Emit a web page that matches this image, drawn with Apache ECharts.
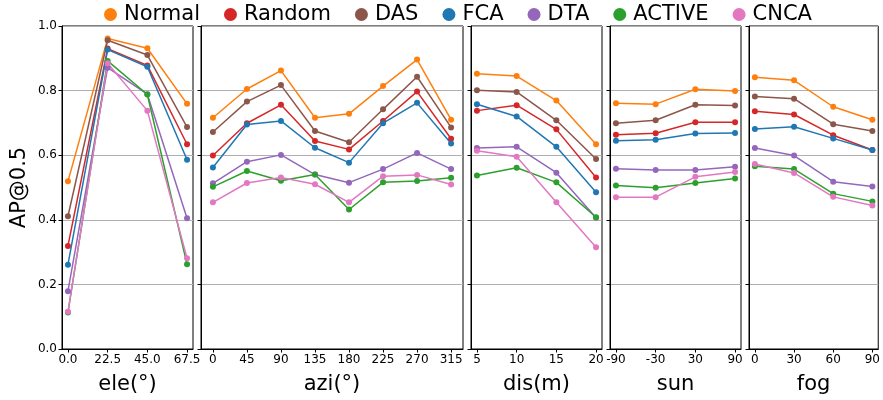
<!DOCTYPE html>
<html>
<head>
<meta charset="utf-8">
<script src="https://cdn.jsdelivr.net/npm/echarts@6/dist/echarts.min.js"></script>
<style>html,body{margin:0;padding:0;background:#fff}#c{width:883px;height:400px}</style>
</head>
<body>
<div id="c"></div>
<script>
// Panels and x positions
const panelNames = ['ele(°)', 'azi(°)', 'dis(m)', 'sun', 'fog'];
const eleX = [0, 22.5, 45, 67.5];
const aziX = [0, 45, 90, 135, 180, 225, 270, 315];
const disX = [5, 10, 15, 20];
const sunX = [-90, -30, 30, 90];
const fogX = [0, 30, 60, 90];
const eleLabels = ['0.0', '22.5', '45.0', '67.5'];

const seriesNames = ['Normal', 'Random', 'DAS', 'FCA', 'DTA', 'ACTIVE', 'CNCA'];
const seriesColors = ['#ff7f0e', '#d62728', '#8c564b', '#1f77b4', '#9467bd', '#2ca02c', '#e377c2'];

// values per series: [ele, azi, dis, sun, fog]
const Normal = [
  [0.519, 0.961, 0.931, 0.759],
  [0.716, 0.805, 0.862, 0.716, 0.728, 0.814, 0.896, 0.710],
  [0.852, 0.845, 0.769, 0.634],
  [0.761, 0.758, 0.804, 0.799],
  [0.841, 0.832, 0.750, 0.710]
];
const Random = [
  [0.319, 0.930, 0.878, 0.634],
  [0.599, 0.699, 0.756, 0.644, 0.618, 0.706, 0.797, 0.651],
  [0.738, 0.755, 0.680, 0.531],
  [0.663, 0.668, 0.702, 0.702],
  [0.736, 0.726, 0.662, 0.616]
];
const DAS = [
  [0.411, 0.956, 0.910, 0.687],
  [0.672, 0.766, 0.817, 0.675, 0.640, 0.742, 0.843, 0.686],
  [0.801, 0.796, 0.708, 0.588],
  [0.699, 0.708, 0.756, 0.754],
  [0.782, 0.775, 0.696, 0.675]
];
const FCA = [
  [0.261, 0.927, 0.874, 0.586],
  [0.562, 0.695, 0.706, 0.623, 0.577, 0.699, 0.762, 0.636],
  [0.758, 0.720, 0.626, 0.485],
  [0.645, 0.648, 0.667, 0.669],
  [0.681, 0.688, 0.652, 0.616]
];
const DTA = [
  [0.179, 0.871, 0.789, 0.405],
  [0.513, 0.580, 0.601, 0.540, 0.515, 0.557, 0.607, 0.557],
  [0.622, 0.626, 0.546, 0.406],
  [0.558, 0.554, 0.554, 0.564],
  [0.622, 0.599, 0.518, 0.503]
];
const ACTIVE = [
  [0.113, 0.892, 0.788, 0.262],
  [0.502, 0.551, 0.521, 0.540, 0.432, 0.516, 0.520, 0.530],
  [0.537, 0.561, 0.516, 0.408],
  [0.506, 0.499, 0.514, 0.528],
  [0.566, 0.557, 0.481, 0.457]
];
const CNCA = [
  [0.115, 0.885, 0.738, 0.281],
  [0.454, 0.514, 0.531, 0.510, 0.454, 0.535, 0.539, 0.509],
  [0.614, 0.595, 0.454, 0.315],
  [0.470, 0.470, 0.533, 0.548],
  [0.573, 0.545, 0.471, 0.444]
];
const seriesValues = [Normal, Random, DAS, FCA, DTA, ACTIVE, CNCA];

const panelX = [eleX, aziX, disX, sunX, fogX];
const FONT = 'DejaVu Sans';

const gridLayout = [
  {left: 62, width: 131},
  {left: 201, width: 262},
  {left: 471, width: 131},
  {left: 610, width: 131},
  {left: 749, width: 131}
];

const grids = gridLayout.map(g => ({
  left: g.left, width: g.width, top: 26, height: 325,
  show: true, borderColor: '#000', borderWidth: 1, backgroundColor: 'transparent'
}));

const xAxes = panelX.map((xs, i) => {
  const span = xs[xs.length - 1] - xs[0];
  const m = span * 0.05;
  return {
    type: 'value', gridIndex: i,
    min: xs[0] - m, max: xs[xs.length - 1] + m,
    name: panelNames[i], nameLocation: 'middle', nameGap: 25,
    nameTextStyle: {fontFamily: FONT, fontSize: 21, color: '#000'},
    axisLine: {show: true, onZero: false, lineStyle: {color: '#000', width: 1}},
    axisTick: {show: true, length: 3.5, lineStyle: {color: '#000'}, customValues: xs},
    axisLabel: {
      show: true, fontFamily: FONT, fontSize: 12, color: '#000', margin: 5,
      customValues: xs,
      formatter: v => (i === 0 ? eleLabels[eleX.indexOf(v)] : String(v))
    },
    splitLine: {show: false}
  };
});

const yAxes = panelX.map((xs, i) => ({
  type: 'value', gridIndex: i, min: 0, max: 1, interval: 0.2,
  name: i === 0 ? 'AP@0.5' : '', nameLocation: 'middle', nameGap: 32,
  nameTextStyle: {fontFamily: FONT, fontSize: 21, color: '#000'},
  axisLine: {show: true, onZero: false, lineStyle: {color: '#000', width: 1}},
  axisTick: {show: true, length: 3.5, lineStyle: {color: '#000'}},
  axisLabel: {
    show: i === 0, fontFamily: FONT, fontSize: 12, color: '#000', margin: 5,
    formatter: v => v.toFixed(1)
  },
  splitLine: {show: true, lineStyle: {color: '#b0b0b0', width: 1}}
}));

const series = [];
seriesNames.forEach((name, si) => {
  panelX.forEach((xs, pi) => {
    series.push({
      type: 'line', name: name, xAxisIndex: pi, yAxisIndex: pi,
      data: xs.map((x, k) => [x, seriesValues[si][pi][k]]),
      symbol: 'circle', symbolSize: 6, showSymbol: true,
      color: seriesColors[si],
      lineStyle: {width: 1.5, color: seriesColors[si]},
      itemStyle: {color: seriesColors[si]},
      animation: false, silent: true
    });
  });
});

const chart = echarts.init(document.getElementById('c'), null, {renderer: 'canvas'});
chart.setOption({
  animation: false,
  color: seriesColors,
  legend: {
    data: seriesNames.map(n => ({name: n, icon: 'circle'})),
    top: -1, left: 99,
    itemWidth: 13, itemHeight: 13, itemGap: 24,
    textStyle: {fontFamily: FONT, fontSize: 21, color: '#000', padding: [0, 0, 0, 2]}
  },
  grid: grids,
  xAxis: xAxes,
  yAxis: yAxes,
  series: series
});
</script>
</body>
</html>
